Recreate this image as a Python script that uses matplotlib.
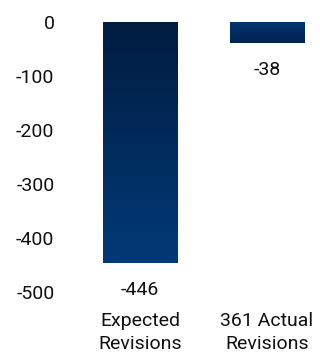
import numpy as np
import matplotlib
matplotlib.use('Agg')
import matplotlib.pyplot as plt
from matplotlib.colors import LinearSegmentedColormap

categories = ['Expected\nRevisions', '361 Actual\nRevisions']
values = [-446, -38]
value_labels = ['-446', '-38']
yticks = [0, -100, -200, -300, -400, -500]

plt.rcParams['font.family'] = ['Roboto', 'DejaVu Sans']
fs = 14
fig = plt.figure(figsize=(3.2, 3.53), dpi=100)
ax = fig.add_axes([60/320, 1 - 300/353, 260/320, 290/353])

width = 0.583
# colours top -> bottom for each bar
grads = [('#011c40', '#023a77'), ('#033670', '#02224f')]
for i, (v, g) in enumerate(zip(values, grads)):
    cmap = LinearSegmentedColormap.from_list('g%d' % i, g)
    grad = np.linspace(0, 1, 256).reshape(-1, 1)
    ax.imshow(grad, cmap=cmap, extent=[i - width/2, i + width/2, v, 0],
              aspect='auto', origin='upper', interpolation='bicubic')
    ax.annotate(value_labels[i], (i, v), xytext=(0, -13), textcoords='offset points',
                ha='center', va='top', fontsize=fs, color='#111111')

ax.set_xlim(-0.63, 1.417)
ax.set_ylim(-513.9, 23.1)
ax.set_yticks(yticks)
ax.set_yticklabels([str(t) for t in yticks], fontsize=fs, color='#111111')
ax.set_xticks(range(len(categories)))
ax.set_xticklabels(categories, fontsize=fs, color='#111111', linespacing=1.37)
ax.tick_params(length=0, axis='y', pad=4)
ax.tick_params(length=0, axis='x', pad=8.5)
for s in ax.spines.values():
    s.set_visible(False)

fig.savefig('out.png', dpi=100)
